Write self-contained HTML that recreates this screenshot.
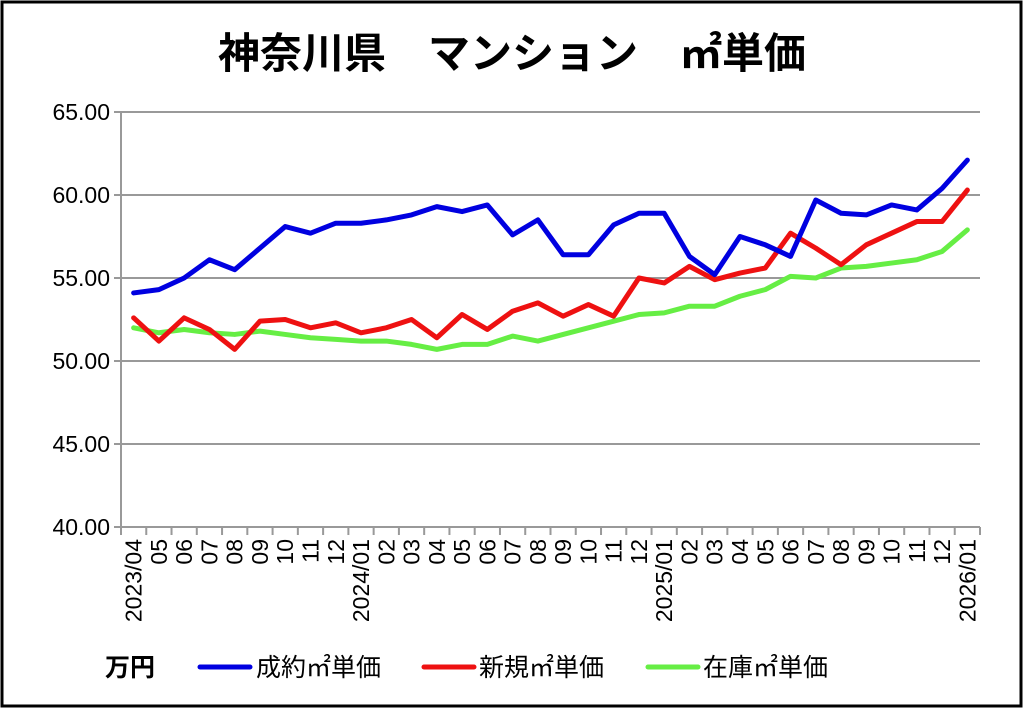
<!DOCTYPE html>
<html><head><meta charset="utf-8"><style>
body{margin:0;background:#fff;}
svg text{font-family:"Liberation Sans","Noto Sans CJK JP",sans-serif;}
</style></head><body>
<svg width="1024" height="709" xmlns="http://www.w3.org/2000/svg">
<rect x="2" y="2" width="1019" height="704" fill="#fff" stroke="#000" stroke-width="3"/>
<text x="512" y="68" text-anchor="middle" font-size="42" font-weight="bold" textLength="588" lengthAdjust="spacingAndGlyphs">神奈川県　マンション　㎡単価</text>
<g stroke="#999" stroke-width="2">
<line x1="114" y1="112" x2="980" y2="112"/>
<line x1="114" y1="195" x2="980" y2="195"/>
<line x1="114" y1="278" x2="980" y2="278"/>
<line x1="114" y1="361" x2="980" y2="361"/>
<line x1="114" y1="444" x2="980" y2="444"/>
<line x1="114" y1="527" x2="980" y2="527"/>
<line x1="121" y1="112" x2="121" y2="534"/>
<path id="ticks" d=""/>
</g>
<g font-size="23" text-anchor="end" fill="#000">
<text x="110" y="120">65.00</text><text x="110" y="203">60.00</text><text x="110" y="286">55.00</text>
<text x="110" y="369">50.00</text><text x="110" y="452">45.00</text><text x="110" y="535">40.00</text>
</g>
<g id="xax"></g>
<g id="series" fill="none" stroke-width="5" stroke-linejoin="round" stroke-linecap="round"></g>
<g font-size="25">
<text x="105" y="676" font-weight="bold">万円</text>
<line x1="200" y1="667" x2="250" y2="667" stroke="#0000e0" stroke-width="5" stroke-linecap="round"/>
<text x="256" y="676">成約㎡単価</text>
<line x1="424" y1="667" x2="474" y2="667" stroke="#ee1111" stroke-width="5" stroke-linecap="round"/>
<text x="479" y="676">新規㎡単価</text>
<line x1="648" y1="667" x2="698" y2="667" stroke="#66ee44" stroke-width="5" stroke-linecap="round"/>
<text x="703" y="676">在庫㎡単価</text>
</g>
</svg>
<script>
const ns="http://www.w3.org/2000/svg";
const step=859/34, x0=121;
const X=i=>x0+step*(i+0.5), Y=v=>112+(65-v)*16.6;
const labels=["2023/04","05","06","07","08","09","10","11","12","2024/01","02","03","04","05","06","07","08","09","10","11","12","2025/01","02","03","04","05","06","07","08","09","10","11","12","2026/01"];
let d="";for(let i=0;i<=34;i++){const x=x0+step*i;d+=`M${x} 527V535`;}
document.getElementById("ticks").setAttribute("d",d);
const xa=document.getElementById("xax");
labels.forEach((l,i)=>{const t=document.createElementNS(ns,"text");const x=X(i)+8;
t.setAttribute("transform",`translate(${x},539) rotate(-90)`);t.setAttribute("text-anchor","end");t.setAttribute("font-size","23");t.textContent=l;xa.appendChild(t);});
const B=[54.1,54.3,55.0,56.1,55.5,56.8,58.1,57.7,58.3,58.3,58.5,58.8,59.3,59.0,59.4,57.6,58.5,56.4,56.4,58.2,58.9,58.9,56.3,55.2,57.5,57.0,56.3,59.7,58.9,58.8,59.4,59.1,60.4,62.1];
const R=[52.6,51.2,52.6,51.9,50.7,52.4,52.5,52.0,52.3,51.7,52.0,52.5,51.4,52.8,51.9,53.0,53.5,52.7,53.4,52.7,55.0,54.7,55.7,54.9,55.3,55.6,57.7,56.8,55.8,57.0,57.7,58.4,58.4,60.3];
const G=[52.0,51.7,51.9,51.7,51.6,51.8,51.6,51.4,51.3,51.2,51.2,51.0,50.7,51.0,51.0,51.5,51.2,51.6,52.0,52.4,52.8,52.9,53.3,53.3,53.9,54.3,55.1,55.0,55.6,55.7,55.9,56.1,56.6,57.9];
const s=document.getElementById("series");
[[G,"#66ee44"],[R,"#ee1111"],[B,"#0000e0"]].forEach(([a,c])=>{const p=document.createElementNS(ns,"polyline");
p.setAttribute("points",a.map((v,i)=>X(i)+","+Y(v)).join(" "));p.setAttribute("stroke",c);s.appendChild(p);});
</script>
</body></html>
